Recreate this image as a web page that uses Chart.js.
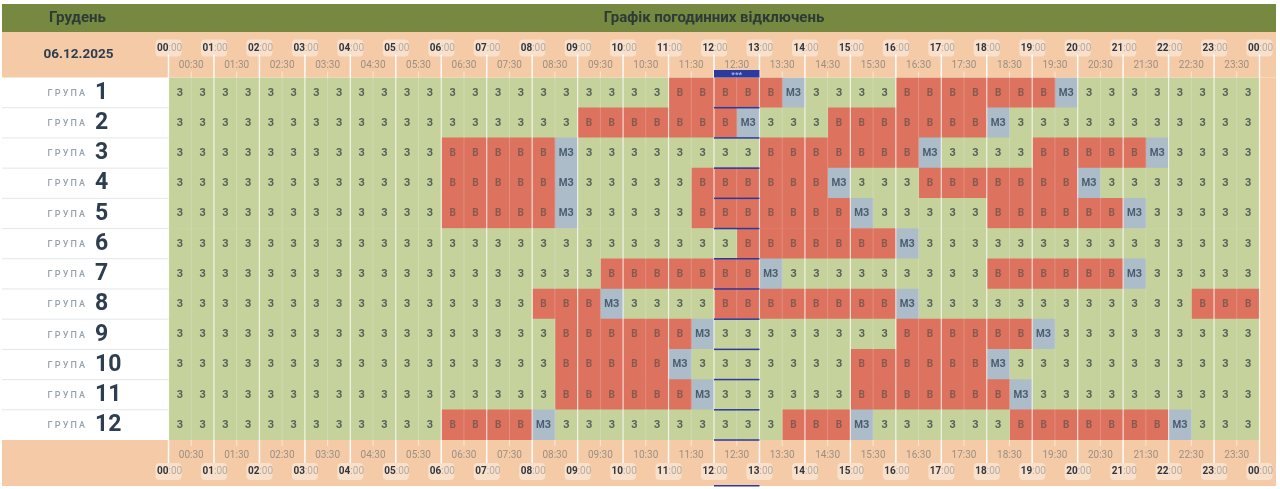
<!DOCTYPE html>
<html>
<head>
<meta charset="utf-8">
<script src="https://cdn.jsdelivr.net/npm/chart.js@4"></script>
<style>
    html, body { margin: 0; padding: 0; background: #fff; overflow: hidden; }
    canvas { display: block; }
</style>
</head>
<body>
<canvas id="scheduleChart" width="1280" height="489"></canvas>
<script>
const monthTitle = "Грудень";
const chartTitle = "Графік погодинних відключень";
const dateLabel = "06.12.2025";
const groupWord = "ГРУПА";
const groupNumbers = ["1", "2", "3", "4", "5", "6", "7", "8", "9", "10", "11", "12"];
const hourLabels = ["00","01","02","03","04","05","06","07","08","09","10","11","12","13","14","15","16","17","18","19","20","21","22","23","00"];
const halfLabels = ["00:30","01:30","02:30","03:30","04:30","05:30","06:30","07:30","08:30","09:30","10:30","11:30","12:30","13:30","14:30","15:30","16:30","17:30","18:30","19:30","20:30","21:30","22:30","23:30"];
const stateText = ["З", "В", "МЗ"];

// one entry per half hour: 0 = З, 1 = В, 2 = МЗ
const group1  = [0,0,0,0,0,0,0,0,0,0,0,0,0,0,0,0,0,0,0,0,0,0,1,1,1,1,1,2,0,0,0,0,1,1,1,1,1,1,1,2,0,0,0,0,0,0,0,0];
const group2  = [0,0,0,0,0,0,0,0,0,0,0,0,0,0,0,0,0,0,1,1,1,1,1,1,1,2,0,0,0,1,1,1,1,1,1,1,2,0,0,0,0,0,0,0,0,0,0,0];
const group3  = [0,0,0,0,0,0,0,0,0,0,0,0,1,1,1,1,1,2,0,0,0,0,0,0,0,0,1,1,1,1,1,1,1,2,0,0,0,0,1,1,1,1,1,2,0,0,0,0];
const group4  = [0,0,0,0,0,0,0,0,0,0,0,0,1,1,1,1,1,2,0,0,0,0,0,1,1,1,1,1,1,2,0,0,0,1,1,1,1,1,1,1,2,0,0,0,0,0,0,0];
const group5  = [0,0,0,0,0,0,0,0,0,0,0,0,1,1,1,1,1,2,0,0,0,0,0,1,1,1,1,1,1,1,2,0,0,0,0,0,1,1,1,1,1,1,2,0,0,0,0,0];
const group6  = [0,0,0,0,0,0,0,0,0,0,0,0,0,0,0,0,0,0,0,0,0,0,0,0,0,1,1,1,1,1,1,1,2,0,0,0,0,0,0,0,0,0,0,0,0,0,0,0];
const group7  = [0,0,0,0,0,0,0,0,0,0,0,0,0,0,0,0,0,0,0,1,1,1,1,1,1,1,2,0,0,0,0,0,0,0,0,0,1,1,1,1,1,1,2,0,0,0,0,0];
const group8  = [0,0,0,0,0,0,0,0,0,0,0,0,0,0,0,0,1,1,1,2,0,0,0,0,1,1,1,1,1,1,1,1,2,0,0,0,0,0,0,0,0,0,0,0,0,1,1,1];
const group9  = [0,0,0,0,0,0,0,0,0,0,0,0,0,0,0,0,0,1,1,1,1,1,1,2,0,0,0,0,0,0,0,0,1,1,1,1,1,1,2,0,0,0,0,0,0,0,0,0];
const group10 = [0,0,0,0,0,0,0,0,0,0,0,0,0,0,0,0,0,1,1,1,1,1,2,0,0,0,0,0,0,0,1,1,1,1,1,1,2,0,0,0,0,0,0,0,0,0,0,0];
const group11 = [0,0,0,0,0,0,0,0,0,0,0,0,0,0,0,0,0,1,1,1,1,1,1,2,0,0,0,0,0,0,1,1,1,1,1,1,1,2,0,0,0,0,0,0,0,0,0,0];
const group12 = [0,0,0,0,0,0,0,0,0,0,0,0,1,1,1,1,2,0,0,0,0,0,0,0,0,0,0,1,1,1,2,0,0,0,0,0,0,1,1,1,1,1,1,1,2,0,0,0];
const groups = [group1, group2, group3, group4, group5, group6, group7, group8, group9, group10, group11, group12];
const slotHours = 0.5;
const nowHourStart = 12;
const nowHourEnd = 13;

const stateColors = ["#c5d29c", "#dd725f", "#acbcc8"];
const stateInk = ["#55625a", "#875a50", "#4a5e72"];
const OLIVE = "#778840";
const PEACH = "#f5cba7";
const INK = "#2d3e50";
const HEAD_INK = "#2c3b36";
const NOW_BLUE = "#2a3a9e";
const FONT = "Roboto, sans-serif";

function put(ctx, text, x, y, font, color, align) {
    ctx.font = font;
    ctx.fillStyle = color;
    ctx.textAlign = align || "center";
    ctx.textBaseline = "middle";
    ctx.fillText(text, x, y);
}

function drawTimeRow(ctx, xs, hourY, halfY, gridEdge, dir) {
    // tick lines first, pills and text sit on top
    ctx.fillStyle = "rgba(255,255,255,0.95)";
    hourLabels.forEach((_, h) => {
        const x = xs.getPixelForValue(h);
        ctx.fillRect(x - 0.75, Math.min(gridEdge, gridEdge - dir * 23), 1.5, 23);
    });
    ctx.fillStyle = "rgba(255,255,255,0.55)";
    halfLabels.forEach((_, h) => {
        const x = xs.getPixelForValue(h + slotHours);
        ctx.fillRect(x - 0.5, Math.min(gridEdge, gridEdge - dir * 6), 1, 6);
    });
    halfLabels.forEach((label, h) => {
        put(ctx, label, xs.getPixelForValue(h + slotHours), halfY, "10px " + FONT, "#9b8f84");
    });
    hourLabels.forEach((label, h) => {
        const x = xs.getPixelForValue(h);
        ctx.fillStyle = "rgba(255,255,255,0.4)";
        ctx.beginPath();
        ctx.roundRect(x - 13, hourY - 8.5, 26, 17, 4);
        ctx.fill();
        put(ctx, label, x, hourY, "bold 10px " + FONT, "#2f3640", "right");
        put(ctx, ":00", x, hourY, "10px " + FONT, "#b3aaa2", "left");
    });
}

const schedulePlugin = {
    id: "schedulePlugin",
    beforeDatasetsDraw(chart) {
        const ctx = chart.ctx;
        const area = chart.chartArea;
        ctx.save();
        ctx.fillStyle = OLIVE;
        ctx.fillRect(2, 4, 1274, 28);
        ctx.fillStyle = PEACH;
        ctx.fillRect(2, 32, 1274, area.top - 32);
        ctx.fillRect(area.right, area.top, 1276 - area.right, area.bottom - area.top);
        ctx.fillRect(2, area.bottom, 1274, 486 - area.bottom);
        ctx.restore();
    },
    afterDatasetsDraw(chart) {
        const ctx = chart.ctx;
        const xs = chart.scales.x;
        const ys = chart.scales.y;
        const area = chart.chartArea;
        const rowH = ys.getPixelForValue(1) - ys.getPixelForValue(0);
        ctx.save();

        // slot separators over the cells
        halfLabels.forEach((_, h) => {
            ctx.fillStyle = "rgba(255,255,255,0.2)";
            ctx.fillRect(xs.getPixelForValue(h + slotHours) - 0.5, area.top, 1, area.bottom - area.top);
        });
        hourLabels.forEach((_, h) => {
            ctx.fillStyle = "rgba(255,255,255,0.75)";
            ctx.fillRect(xs.getPixelForValue(h) - 0.6, area.top, 1.2, area.bottom - area.top);
        });

        // cell letters, placed from the bar elements
        chart.data.datasets.forEach((ds, slot) => {
            chart.getDatasetMeta(slot).data.forEach((bar, row) => {
                const state = groups[row][slot];
                const cx = (bar.x + bar.base) / 2;
                put(ctx, stateText[state], cx, bar.y + 0.5, "bold 10px " + FONT, stateInk[state]);
            });
        });

        // group labels on the left
        groupNumbers.forEach((num, row) => {
            const y = ys.getPixelForValue(row);
            ctx.letterSpacing = "2.2px";
            put(ctx, groupWord, 47.5, y + 1, "500 9px " + FONT, "#96a2ae", "left");
            ctx.letterSpacing = "0px";
            put(ctx, num, 95, y + 0.5, "bold 23px " + FONT, INK, "left");
            if (row < groupNumbers.length - 1) {
                ctx.fillStyle = "#e3e6ea";
                ctx.fillRect(2, y + rowH / 2 - 0.5, area.left - 2, 1);
            }
        });

        // headers
        put(ctx, monthTitle, 77.5, 18.5, "bold 15px " + FONT, HEAD_INK);
        put(ctx, chartTitle, xs.getPixelForValue(12), 18.5, "bold 15px " + FONT, HEAD_INK);
        put(ctx, dateLabel, 78.5, 54.5, "bold 13.5px " + FONT, INK);

        drawTimeRow(ctx, xs, 48, 65, area.top, 1);
        drawTimeRow(ctx, xs, 471.5, 455, area.bottom, -1);

        // current hour marker
        const nowL = xs.getPixelForValue(nowHourStart);
        const nowR = xs.getPixelForValue(nowHourEnd);
        ctx.fillStyle = NOW_BLUE;
        ctx.fillRect(nowL, 70, nowR - nowL, area.top - 70);
        groupNumbers.forEach((_, row) => {
            const y = ys.getPixelForValue(row) + rowH / 2;
            ctx.fillRect(nowL, y - 0.75, nowR - nowL, 1.5);
        });
        ctx.fillRect(nowL, 485, nowR - nowL, 1.5);
        put(ctx, "***", (nowL + nowR) / 2, 74.5, "bold 8px " + FONT, "#aab6ea");

        ctx.restore();
    }
};

const datasets = group1.map((_, slot) => ({
    label: String(slot),
    data: groups.map(() => slotHours),
    backgroundColor: groups.map(g => stateColors[g[slot]]),
    borderWidth: 0,
    barPercentage: 1,
    categoryPercentage: 1
}));

new Chart(document.getElementById("scheduleChart"), {
    type: "bar",
    data: { labels: groupNumbers, datasets: datasets },
    plugins: [schedulePlugin],
    options: {
        indexAxis: "y",
        responsive: false,
        animation: false,
        devicePixelRatio: 1,
        layout: { padding: { left: 168.5, right: 20.5, top: 77.5, bottom: 49 } },
        plugins: { legend: { display: false }, tooltip: { enabled: false } },
        scales: {
            x: { type: "linear", stacked: true, min: 0, max: 24, display: false },
            y: { stacked: true, display: false }
        }
    }
});
</script>
</body>
</html>
